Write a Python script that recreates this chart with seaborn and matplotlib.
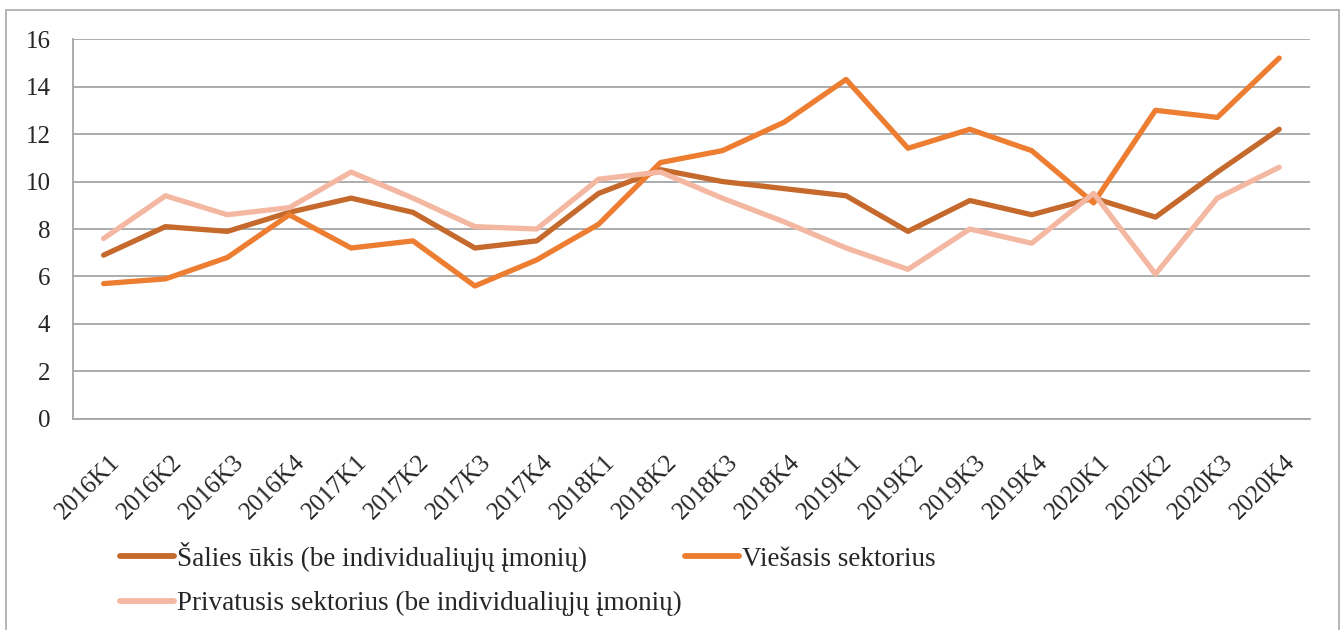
import numpy as np
import pandas as pd
import matplotlib
matplotlib.use('Agg')
import matplotlib.pyplot as plt
import matplotlib.transforms as mtransforms
import seaborn as sns
from matplotlib.lines import Line2D

quarters = ['2016K1', '2016K2', '2016K3', '2016K4', '2017K1', '2017K2', '2017K3', '2017K4',
            '2018K1', '2018K2', '2018K3', '2018K4', '2019K1', '2019K2', '2019K3', '2019K4',
            '2020K1', '2020K2', '2020K3', '2020K4']

salies_ukis = [6.9, 8.1, 7.9, 8.7, 9.3, 8.7, 7.2, 7.5, 9.5, 10.5,
               10.0, 9.7, 9.4, 7.9, 9.2, 8.6, 9.3, 8.5, 10.4, 12.2]
viesasis = [5.7, 5.9, 6.8, 8.6, 7.2, 7.5, 5.6, 6.7, 8.2, 10.8,
            11.3, 12.5, 14.3, 11.4, 12.2, 11.3, 9.1, 13.0, 12.7, 15.2]
privatusis = [7.6, 9.4, 8.6, 8.9, 10.4, 9.3, 8.1, 8.0, 10.1, 10.4,
              9.3, 8.3, 7.2, 6.3, 8.0, 7.4, 9.5, 6.1, 9.3, 10.6]

series_names = ['Šalies ūkis (be individualiųjų įmonių)',
                'Viešasis sektorius',
                'Privatusis sektorius (be individualiųjų įmonių)']
colors = ['#C5692C', '#ED7D31', '#F4B8A2']

rows = []
for name, vals in zip(series_names, [salies_ukis, viesasis, privatusis]):
    for i, v in enumerate(vals):
        rows.append({'pos': i, 'value': v, 'series': name})
df = pd.DataFrame(rows)

sns.set_style('white')
plt.rcParams['font.family'] = ['Liberation Serif', 'DejaVu Serif']

fig = plt.figure(figsize=(13.41, 6.30), dpi=100)
ax = fig.add_axes([0.0542, 0.335, 0.9228, 0.603])

sns.lineplot(data=df, x='pos', y='value', hue='series', hue_order=series_names,
             palette=colors, linewidth=3.8, ax=ax, legend=False, sort=False)

ax.set_xlim(-0.5, len(quarters) - 0.5)
ax.set_ylim(0, 16)
ax.set_yticks(np.arange(0, 17, 2))
ax.set_xticks(range(len(quarters)))
ax.set_xticklabels(quarters, rotation=45, ha='right', rotation_mode='anchor', fontsize=18)
ax.set_xticks(np.arange(-0.5, len(quarters), 1), minor=True)
ax.tick_params(axis='x', which='major', length=0, pad=23)
ax.tick_params(axis='x', which='minor', length=4.5, color='#A6A6A6', width=1.2)
ax.tick_params(axis='y', length=5.5, color='#A6A6A6', width=1.2, labelsize=18, pad=10.5)
ax.set_xlabel('')
ax.set_ylabel('')

# shift rotated labels a little to the right, like the original
offset = mtransforms.ScaledTranslation(5 / 100, 0, fig.dpi_scale_trans)
for lbl in ax.get_xticklabels():
    lbl.set_transform(lbl.get_transform() + offset)

ax.yaxis.grid(True, color='#A6A6A6', linewidth=1.3)
ax.set_axisbelow(True)
for side in ['top', 'right']:
    ax.spines[side].set_visible(False)
for side in ['left', 'bottom']:
    ax.spines[side].set_color('#A6A6A6')
    ax.spines[side].set_linewidth(1.3)

handles = [Line2D([], [], color=c, linewidth=4.2, solid_capstyle='round') for c in colors]
order = [0, 2, 1]
fig.legend([handles[i] for i in order], [series_names[i] for i in order],
           ncol=2, loc='upper left', bbox_to_anchor=(0.0895, 0.14),
           frameon=False, fontsize=19.5, handlelength=2.0, handletextpad=0.12,
           columnspacing=0.1, labelspacing=0.72, borderaxespad=0, borderpad=0)

# outer chart border (top, left, right)
border = dict(color='#B0B0B0', linewidth=1.3, transform=fig.transFigure)
fig.add_artist(Line2D([0.0045, 0.9985], [0.984, 0.984], **border))
fig.add_artist(Line2D([0.0045, 0.0045], [0.0, 0.984], **border))
fig.add_artist(Line2D([0.9985, 0.9985], [0.0, 0.984], **border))

fig.savefig('out.png', dpi=100)
